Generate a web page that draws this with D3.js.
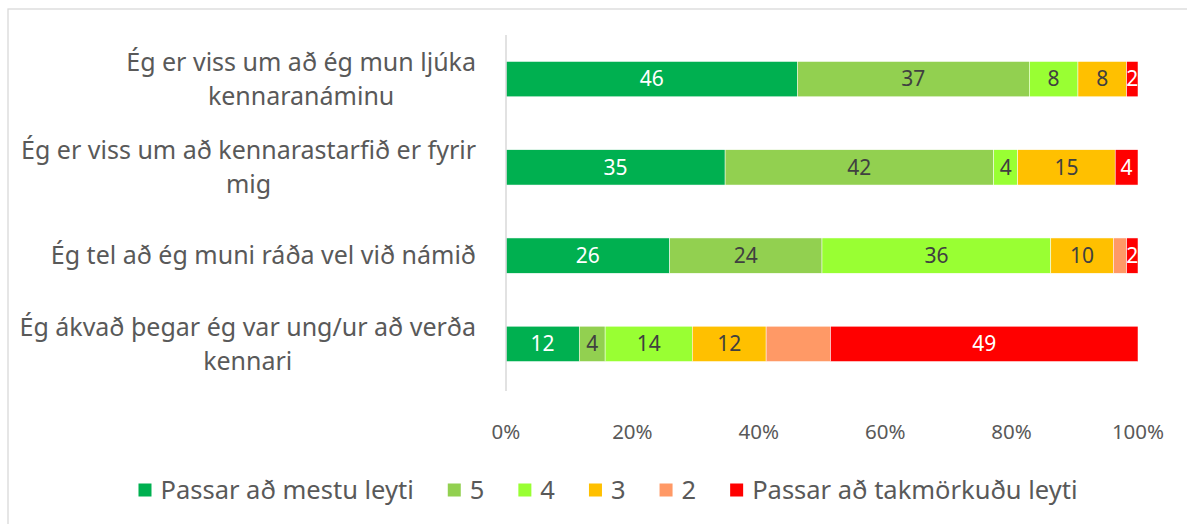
<!DOCTYPE html>
<html>
<head>
<meta charset="utf-8">
<script src="https://cdn.jsdelivr.net/npm/d3@7"></script>
<style>
  body { margin: 0; background: #fff; }
  text { font-family: "Noto Sans", sans-serif; }
</style>
</head>
<body>
<div id="chart"></div>
<script>
// categories (each entry = lines of the wrapped label)
var categories = [
  ["Ég er viss um að ég mun ljúka", "kennaranáminu"],
  ["Ég er viss um að kennarastarfið er fyrir", "mig"],
  ["Ég tel að ég muni ráða vel við námið"],
  ["Ég ákvað þegar ég var ung/ur að verða", "kennari"]
];
var seriesNames = ["Passar að mestu leyti", "5", "4", "3", "2", "Passar að takmörkuðu leyti"];

// values per series, one per category
var mestu = [46.1, 34.6, 25.9, 11.6];
var five  = [36.7, 42.4, 24.1, 4.1];
var four  = [7.7, 3.8, 36.2, 13.8];
var three = [7.7, 15.4, 9.9, 11.7];
var two   = [0, 0, 2.1, 10.2];
var takm  = [1.8, 3.6, 1.8, 48.7];

var xTicks = [0, 0.2, 0.4, 0.6, 0.8, 1];

var colors = ["#00B050", "#92D050", "#99FF33", "#FFC000", "#FF9966", "#FF0000"];
var labelColors = ["#ffffff", "#404040", "#404040", "#404040", "#404040", "#ffffff"];
var showLabel = [true, true, true, true, false, true];

var width = 1187, height = 524;
var margin = { top: 35, right: 49, bottom: 136, left: 506 };

var svg = d3.select("#chart").append("svg")
  .attr("width", width)
  .attr("height", height);

// chart frame
svg.append("rect")
  .attr("x", 8).attr("y", 9)
  .attr("width", width + 20).attr("height", height + 20)
  .attr("fill", "none")
  .attr("stroke", "#d9d9d9")
  .attr("stroke-width", 1.3);

var allSeries = [mestu, five, four, three, two, takm];
var table = categories.map(function (c, i) {
  var row = { cat: i };
  seriesNames.forEach(function (s, j) { row[s] = allSeries[j][i]; });
  return row;
});

var stacked = d3.stack().keys(seriesNames).offset(d3.stackOffsetExpand)(table);

var x = d3.scaleLinear()
  .domain([0, 1])
  .range([margin.left, width - margin.right]);

var y = d3.scaleBand()
  .domain(d3.range(categories.length))
  .range([margin.top, height - margin.bottom])
  .paddingInner(0.6)
  .paddingOuter(0.3);

// x axis tick labels
svg.append("g")
  .selectAll("text")
  .data(xTicks)
  .join("text")
  .attr("x", function (d) { return x(d); })
  .attr("y", 432)
  .attr("dy", "0.35em")
  .attr("text-anchor", "middle")
  .attr("fill", "#595959")
  .style("font-size", "20.5px")
  .text(d3.format(".0%"));

// bars
var layer = svg.append("g")
  .selectAll("g")
  .data(stacked)
  .join("g")
  .attr("fill", function (d, i) { return colors[i]; });

layer.selectAll("rect")
  .data(function (d) { return d; })
  .join("rect")
  .attr("x", function (d) { return x(d[0]); })
  .attr("y", function (d) { return y(d.data.cat); })
  .attr("width", function (d) { return x(d[1]) - x(d[0]); })
  .attr("height", y.bandwidth())
  .attr("stroke", "#ffffff")
  .attr("stroke-width", 0.5);

// data labels
layer.each(function (s, i) {
  if (!showLabel[i]) return;
  d3.select(this).selectAll("text")
    .data(s.filter(function (d) { return d.data[s.key] > 0; }))
    .join("text")
    .attr("x", function (d) { return (x(d[0]) + x(d[1])) / 2; })
    .attr("y", function (d) { return y(d.data.cat) + y.bandwidth() / 2; })
    .attr("dy", "0.35em")
    .attr("text-anchor", "middle")
    .attr("fill", labelColors[i])
    .style("font-size", "21px")
    .text(function (d) { return d3.format(".0f")(d.data[s.key]); });
});

// vertical axis line
svg.append("line")
  .attr("x1", x(0)).attr("x2", x(0))
  .attr("y1", margin.top).attr("y2", height - margin.bottom + 3)
  .attr("stroke", "#d9d9d9")
  .attr("stroke-width", 1.5);

// category labels, lines centred inside a right aligned block
var labelRight = 476;
var lineGap = 34;
categories.forEach(function (lines, i) {
  var g = svg.append("g");
  var cy = y(i) + y.bandwidth() / 2;
  var texts = g.selectAll("text")
    .data(lines)
    .join("text")
    .attr("y", function (d, k) { return cy + (k - (lines.length - 1) / 2) * lineGap; })
    .attr("dy", "0.35em")
    .attr("text-anchor", "middle")
    .attr("fill", "#595959")
    .style("font-size", "25px")
    .text(function (d) { return d; });
  var maxW = d3.max(texts.nodes(), function (n) { return n.getComputedTextLength(); });
  texts.attr("x", labelRight - maxW / 2);
});

// legend
var legend = svg.append("g");
var items = legend.selectAll("g")
  .data(seriesNames)
  .join("g");
items.append("rect")
  .attr("width", 13).attr("height", 13)
  .attr("y", -6.5)
  .attr("fill", function (d, i) { return colors[i]; });
items.append("text")
  .attr("x", 22)
  .attr("dy", "0.35em")
  .attr("fill", "#595959")
  .style("font-size", "25.5px")
  .text(function (d) { return d; });

var pos = 0;
var offsets = [];
items.each(function () {
  var w = d3.select(this).select("text").node().getComputedTextLength();
  offsets.push(pos);
  pos += 22 + w + 34;
});
var total = pos - 34;
var legendStart = 608 - total / 2;
items.attr("transform", function (d, i) { return "translate(" + (legendStart + offsets[i]) + ",490)"; });
</script>
</body>
</html>
